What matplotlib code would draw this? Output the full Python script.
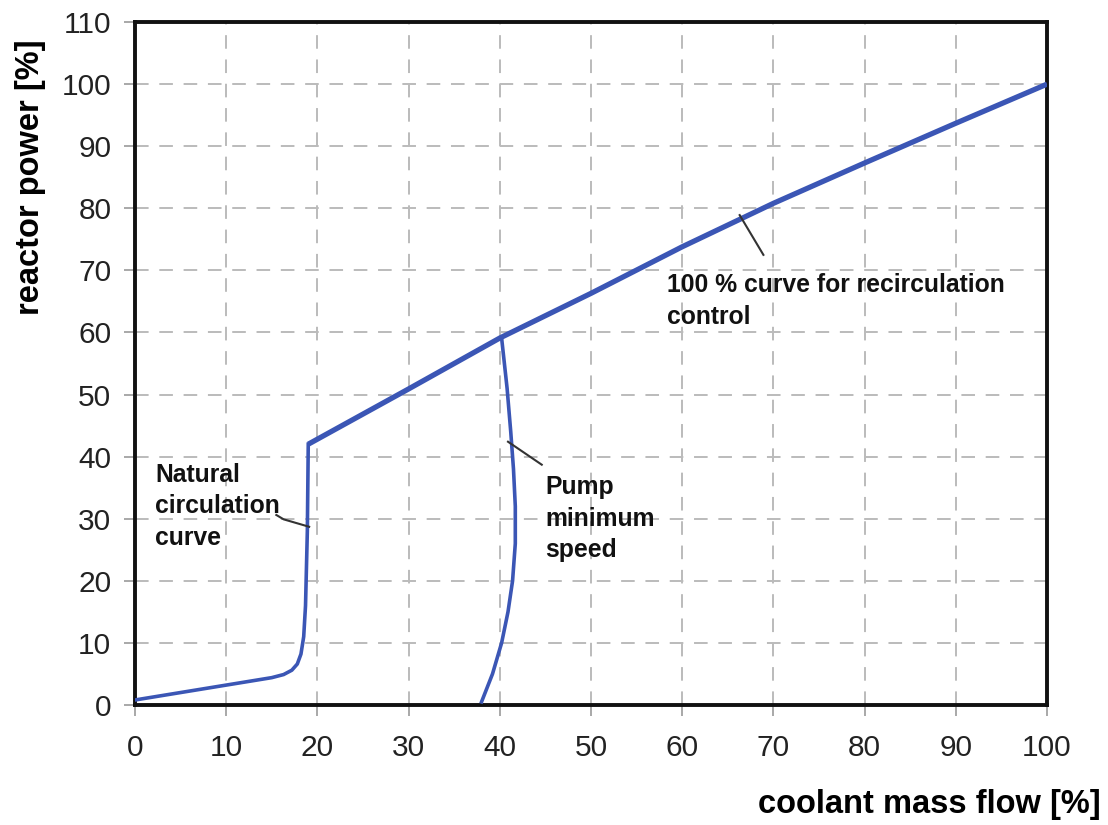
"""Reactor power vs coolant mass flow operating map."""

import matplotlib

matplotlib.use("Agg")
import matplotlib.pyplot as plt

plt.rcParams["font.family"] = ["Liberation Sans", "DejaVu Sans"]

# 100 % curve for recirculation control
rec_flow = [19, 30, 40, 50, 60, 70, 80, 90, 100]
rec_power = [42, 50.9, 59.1, 66.3, 73.8, 80.8, 87.3, 93.7, 100]

# natural circulation curve
nat_flow = [0, 10, 15.0, 16.3, 17.2, 17.8, 18.2, 18.5, 18.7, 18.9, 19.0]
nat_power = [0.8, 3.2, 4.4, 4.9, 5.6, 6.6, 8.2, 11.0, 16.0, 28.0, 42.0]

# pump minimum speed
pump_flow = [38.0, 39.2, 40.2, 40.9, 41.4, 41.7, 41.7, 41.5, 41.2, 40.8, 40.2]
pump_power = [0.5, 5.0, 10.0, 15.0, 20.0, 26.0, 32.0, 38.0, 44.0, 51.0, 59.1]

# leader lines for the labels
nat_lead_x = [15.5, 16.3, 19.1]
nat_lead_y = [30.6, 29.9, 28.7]
pump_lead_x = [40.9, 44.6]
pump_lead_y = [42.4, 38.7]
rec_lead_x = [66.3, 68.9]
rec_lead_y = [78.9, 72.5]

ticks = list(range(0, 111, 10))
blue = "#3b56b5"

fig = plt.figure(figsize=(11.08, 8.25), dpi=100)
ax = fig.add_axes([0.1218, 0.1455, 0.8232, 0.8278])

ax.plot(rec_flow, rec_power, color=blue, lw=3.8, solid_capstyle="butt", zorder=3)
ax.plot(nat_flow, nat_power, color=blue, lw=2.6, zorder=3)
ax.plot(pump_flow, pump_power, color=blue, lw=2.6, zorder=3)

for lx, ly in [(nat_lead_x, nat_lead_y), (pump_lead_x, pump_lead_y), (rec_lead_x, rec_lead_y)]:
    ax.plot(lx, ly, color="#333333", lw=1.5, zorder=4)

txt = dict(fontsize=17.8, fontweight="bold", color="#111111", va="top", ha="left",
           linespacing=1.4)
ax.text(2.2, 39.0, "Natural\ncirculation\ncurve", **txt)
ax.text(45.0, 37.0, "Pump\nminimum\nspeed", **txt)
ax.text(58.3, 69.5, "100 % curve for recirculation\ncontrol", **txt)

ax.set_xlim(0, 100)
ax.set_ylim(0, 110)
ax.set_xticks(ticks[:11])
ax.set_yticks(ticks)
ax.grid(True, color="#bbbbbb", ls=(0, (7, 5.5)), lw=1.4)
ax.set_axisbelow(True)

for sp in ax.spines.values():
    sp.set_linewidth(2.8)
    sp.set_color("#111111")
ax.tick_params(direction="out", length=8, width=1.2, color="#999999",
               labelsize=21.5, labelcolor="#222222", pad=9)
ax.tick_params(axis="x", pad=13)

ax.set_xlabel("coolant mass flow [%]", fontsize=23.5, fontweight="bold", va="center")
ax.xaxis.set_label_coords(0.871, -0.146)
ax.set_ylabel("reactor power [%]", fontsize=23.5, fontweight="bold", va="center")
ax.yaxis.set_label_coords(-0.115, 0.773)

fig.savefig("out.png", dpi=100)
